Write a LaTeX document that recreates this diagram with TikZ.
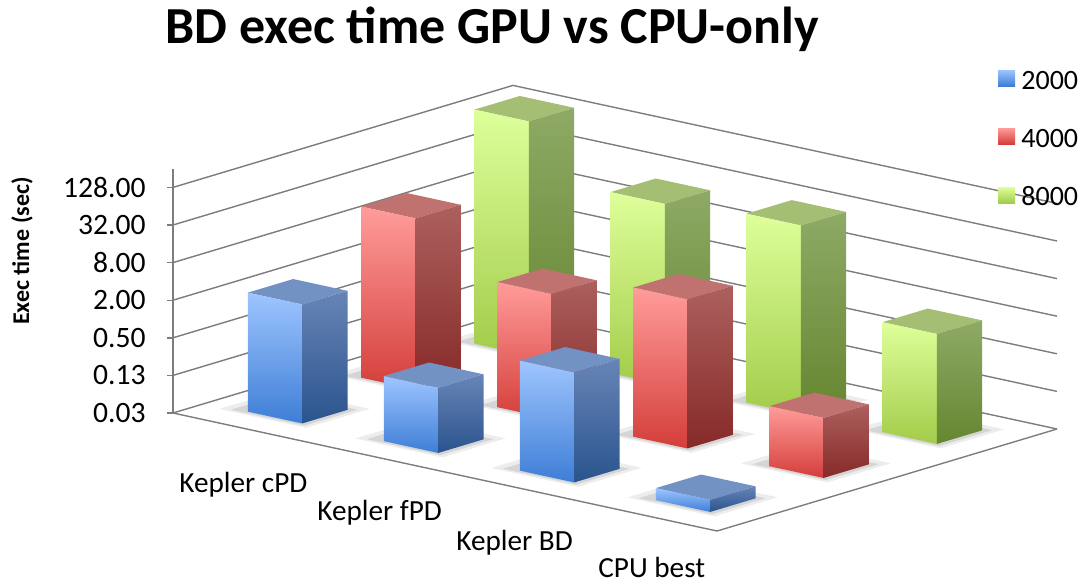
\documentclass[tikz,border=0pt]{standalone}
\usepackage{fontspec}
\setmainfont{Carlito}
\usetikzlibrary{positioning}
\definecolor{gridgray}{RGB}{125,125,125}
\definecolor{bfronttop}{RGB}{158,197,255}
\definecolor{bfrontbot}{RGB}{62,126,214}
\definecolor{bsidetop}{RGB}{104,132,182}
\definecolor{bsidebot}{RGB}{42,84,142}
\definecolor{btopface}{RGB}{114,146,196}
\definecolor{rfronttop}{RGB}{255,156,154}
\definecolor{rfrontbot}{RGB}{212,62,58}
\definecolor{rsidetop}{RGB}{172,96,94}
\definecolor{rsidebot}{RGB}{134,42,40}
\definecolor{rtopface}{RGB}{192,114,112}
\definecolor{gfronttop}{RGB}{222,255,154}
\definecolor{gfrontbot}{RGB}{162,204,74}
\definecolor{gsidetop}{RGB}{142,170,102}
\definecolor{gsidebot}{RGB}{102,134,48}
\definecolor{gtopface}{RGB}{164,190,116}

% one 3d column: category, series, height (log2 units above floor), colour set
\newcommand{\colbar}[4]{%
    \path[#4top] (#1+0.3,#2+0.3,#3) -- (#1+0.7,#2+0.3,#3) -- (#1+0.7,#2+0.7,#3) -- (#1+0.3,#2+0.7,#3) -- cycle;
    \path[#4front] (#1+0.3,#2+0.3,0) -- (#1+0.7,#2+0.3,0) -- (#1+0.7,#2+0.3,#3) -- (#1+0.3,#2+0.3,#3) -- cycle;
    \path[#4side] (#1+0.7,#2+0.3,0) -- (#1+0.7,#2+0.7,0) -- (#1+0.7,#2+0.7,#3) -- (#1+0.7,#2+0.3,#3) -- cycle;
}
\newcommand{\colshadow}[2]{%
    \fill[black, opacity=0.07] (#1+0.14,#2+0.24,0) -- (#1+0.78,#2+0.24,0) -- (#1+0.78,#2+0.8,0) -- (#1+0.14,#2+0.8,0) -- cycle;
    \fill[black, opacity=0.1] (#1+0.2,#2+0.27,0) -- (#1+0.74,#2+0.27,0) -- (#1+0.74,#2+0.74,0) -- (#1+0.2,#2+0.74,0) -- cycle;
}

\begin{document}
\begin{tikzpicture}
    [x=0.5pt, y=-0.5pt,
    gridln/.style={draw=gridgray, line width=0.7pt},
    title/.style={anchor=base west, inner sep=0pt, font=\bfseries\fontsize{26}{30}\selectfont},
    ylbl/.style={rotate=90, inner sep=0pt, font=\bfseries\fontsize{12}{14}\selectfont},
    ticklbl/.style={inner sep=0pt, font=\fontsize{14.8}{17}\selectfont},
    catlbl/.style={anchor=base west, inner sep=0pt, font=\fontsize{14.6}{17}\selectfont},
    leglbl/.style={anchor=west, inner sep=0pt, font=\fontsize{14}{16}\selectfont},
    btop/.style={fill=btopface}, bfront/.style={top color=bfronttop, bottom color=bfrontbot}, bside/.style={top color=bsidetop, bottom color=bsidebot},
    rtop/.style={fill=rtopface}, rfront/.style={top color=rfronttop, bottom color=rfrontbot}, rside/.style={top color=rsidetop, bottom color=rsidebot},
    gtop/.style={fill=gtopface}, gfront/.style={top color=gfronttop, bottom color=gfrontbot}, gside/.style={top color=gsidetop, bottom color=gsidebot}]
    \useasboundingbox (0,0) rectangle (1083,584);

    \node[title] (title) at (165,43) {BD exec time GPU vs CPU-only};
    \node[ylbl]  (ylab) at (22,251) {Exec time (sec)};

    \begin{scope}[shift={(86.5pt,-206.5pt)}, x={(68pt,-14.75pt)}, y={(56.667pt,17pt)}, z={(0pt,9.4pt)}]
        % walls and floor
        \foreach \k in {0,...,6}
            \draw[gridln] (0,0,2*\k) -- (0,3,2*\k) -- (4,3,2*\k);
        \draw[gridln] (0,0,0) -- (4,0,0) -- (4,3,0);
        \draw[gridln] (0,0,0) -- (0,0,13);
        \foreach \k/\lab in {0/0.03,1/0.13,2/0.50,3/2.00,4/8.00,5/32.00,6/128.00} {
            \draw[gridln] (0,0,2*\k) -- ++(-3pt,0pt);
            \node[ticklbl, left=13.5pt] (tick\k) at (0,0,2*\k) {\lab};
        }
        % columns, back row first
        \foreach \j in {0,1,2}
            \foreach \i in {0,...,3}
                {\colshadow{\i}{\j}}
        \foreach \j/\s/\hs in {2/g/{12.45,9.63,10.05,5.85},1/r/{9.1,6.65,7.93,3.19},0/b/{6.33,3.46,5.85,0.64}}
            \foreach \h [count=\i from 0] in \hs
                {\colbar{\i}{\j}{\h}{\s}}
    \end{scope}

    \node[catlbl] (cat0) at (179,492) {Kepler cPD};
    \node[catlbl] (cat1) at (317,520) {Kepler fPD};
    \node[catlbl] (cat2) at (456,550) {Kepler BD};
    \node[catlbl] (cat3) at (598,577) {CPU best};

    \path[bfront] (998,70) rectangle (1015,86);
    \path[rfront] (998,128) rectangle (1015,144);
    \path[gfront] (998,187) rectangle (1015,203);
    \node[leglbl] (leg2000) at (1021,81) {2000};
    \node[leglbl] (leg4000) at (1021,139) {4000};
    \node[leglbl] (leg8000) at (1021,196) {8000};
\end{tikzpicture}
\end{document}
